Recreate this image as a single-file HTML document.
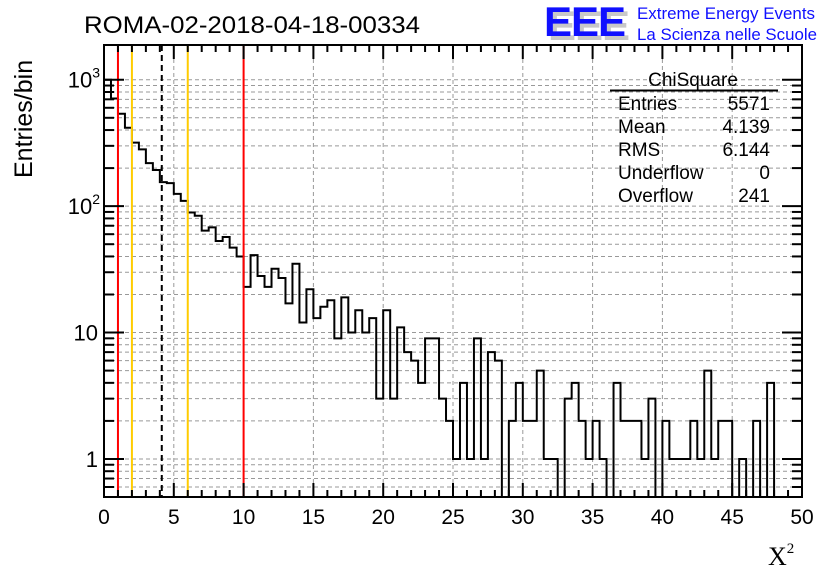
<!DOCTYPE html>
<html><head><meta charset="utf-8"><style>
body{margin:0;background:#fff;}
svg{display:block;font-family:"Liberation Sans",sans-serif;}
</style></head><body>
<svg id="chart" width="836" height="572" viewBox="0 0 836 572" xmlns="http://www.w3.org/2000/svg">
<rect width="836" height="572" fill="#fff"/>
<text x="84" y="33" font-size="24" textLength="336" lengthAdjust="spacingAndGlyphs">ROMA-02-2018-04-18-00334</text>
<g>
<text x="548" y="40" font-size="42" font-weight="bold" fill="#c8c8c8" letter-spacing="-1">EEE</text>
<text x="544" y="36" font-size="42" font-weight="bold" fill="#1010ff" letter-spacing="-1">EEE</text>
<text x="637" y="19" font-size="16.5" fill="#1010ff" textLength="178" lengthAdjust="spacingAndGlyphs">Extreme Energy Events</text>
<text x="637" y="40" font-size="16.5" fill="#1010ff" textLength="180" lengthAdjust="spacingAndGlyphs">La Scienza nelle Scuole</text>
</g>
<g id="grid"></g>
<g id="marks"></g>
<g id="axes"></g>
<g font-size="19">
<text x="693" y="86" text-anchor="middle">ChiSquare</text>
<line x1="610" y1="90.5" x2="778" y2="90.5" stroke="#000" stroke-width="2"/>
<text x="618" y="110">Entries</text><text x="770" y="110" text-anchor="end">5571</text>
<text x="618" y="133">Mean</text><text x="770" y="133" text-anchor="end">4.139</text>
<text x="618" y="156">RMS</text><text x="770" y="156" text-anchor="end">6.144</text>
<text x="618" y="179">Underflow</text><text x="770" y="179" text-anchor="end">0</text>
<text x="618" y="202">Overflow</text><text x="770" y="202" text-anchor="end">241</text>
</g>
<text transform="translate(32,178) rotate(-90)" font-size="25">Entries/bin</text>
<text x="768" y="565" font-size="26" font-family="Liberation Serif,serif">X<tspan font-size="15" dy="-12">2</tspan></text>
</svg>
<script>
const binWidth = 0.5;
const counts = [1000,711,538,417,318,281,219,193,155,152,125,110,89,84,64,68,53,57,47,40,
23,41,28,23,32,27,17,35,12,22,13,16,18,9,19,10,15,10,13,3,
15,3,11,7,6,4,9,9,3,2,1,4,1,9,1,7,6,0,2,4,
2,2,5,1,1,0,3,4,2,1,2,1,0,4,2,2,2,1,3,0,
2,1,1,1,2,1,5,1,2,2,0,1,0,2,0,4,0,0,0,0];
const xTicks = [0,5,10,15,20,25,30,35,40,45,50];
const yMajor = [1,10,100,1000];
const yLabels = ["1","10","10²","10³"];
const redLines = [1,10];
const orangeLines = [2,6];
const meanValue = 4.139;

const X0=104,X1=802,Y0=497,Y1=45;
const xMin=0,xMax=50,yMin=0.5,yDec=126.4;
const sx=v=>X0+(v-xMin)/(xMax-xMin)*(X1-X0);
const sy=v=>Y0-Math.log10(Math.max(v,yMin)/yMin)*yDec;
const yMaxVal=yMin*Math.pow(10,(Y0-Y1)/yDec);
const NS="http://www.w3.org/2000/svg";
function mk(tag,attrs,parent){const e=document.createElementNS(NS,tag);for(const k in attrs)e.setAttribute(k,attrs[k]);parent.appendChild(e);return e;}
const grid=document.getElementById('grid'),marks=document.getElementById('marks'),axes=document.getElementById('axes');
xTicks.forEach(t=>{if(t>xMin&&t<xMax){const l=mk('line',{x1:sx(t),x2:sx(t),y1:Y1,y2:Y0,stroke:'#999','stroke-dasharray':'4,3','stroke-width':1},grid);

}});
for(let d=0.1;d<=1000;d*=10){for(let m=1;m<=9;m++){const v=d*m;if(v<yMin||v>yMaxVal)continue;
const l=mk('line',{x1:X0,x2:X1,y1:sy(v),y2:sy(v),stroke:'#999','stroke-dasharray':'4,3','stroke-width':1},grid);

}}
let d=`M${sx(0)},${Y0}`;
counts.forEach((c,i)=>{const y=c>0?sy(c):Y0;d+=` L${sx(i*binWidth)},${y} L${sx((i+1)*binWidth)},${y}`;});
d+=` L${sx(counts.length*binWidth)},${Y0}`;
const h=mk('path',{d:d,fill:'none',stroke:'#000','stroke-width':2},marks);


redLines.forEach(v=>{const l=mk('line',{x1:sx(v),x2:sx(v),y1:Y1,y2:Y0,stroke:'#f00','stroke-width':2},marks);

});
orangeLines.forEach(v=>{const l=mk('line',{x1:sx(v),x2:sx(v),y1:Y1,y2:Y0,stroke:'#fc0','stroke-width':2},marks);

});
const ml=mk('line',{x1:sx(meanValue),x2:sx(meanValue),y1:Y1,y2:Y0,stroke:'#000','stroke-width':2,'stroke-dasharray':'6,4'},marks);


const fr=mk('rect',{x:X0,y:Y1,width:X1-X0,height:Y0-Y1,fill:'none',stroke:'#000','stroke-width':2},axes);


for(let t=xMin;t<=xMax;t+=1){const L=(t%5===0)?14:7;
mk('line',{x1:sx(t),x2:sx(t),y1:Y0,y2:Y0-L,stroke:'#000','stroke-width':2},axes);
mk('line',{x1:sx(t),x2:sx(t),y1:Y1,y2:Y1+L,stroke:'#000','stroke-width':2},axes);}
xTicks.forEach(t=>{const tx=mk('text',{x:sx(t),y:524,'font-size':21,'text-anchor':'middle'},axes);tx.textContent=t;

});
for(let dd=0.1;dd<=1000;dd*=10){for(let m=1;m<=9;m++){const v=dd*m;if(v<yMin||v>yMaxVal)continue;const L=m===1?20:10;
mk('line',{x1:X0,x2:X0+L,y1:sy(v),y2:sy(v),stroke:'#000','stroke-width':2},axes);
mk('line',{x1:X1,x2:X1-L,y1:sy(v),y2:sy(v),stroke:'#000','stroke-width':2},axes);}}
yMajor.forEach((v,i)=>{const s=yLabels[i];const tx=mk('text',{x:98,y:sy(v)+8,'font-size':22,'text-anchor':'end'},axes);
if(s.length>2&&s.startsWith('10')){tx.textContent='10';const ts=mk('tspan',{'font-size':14,dy:-10},tx);ts.textContent=s==='10²'?'2':'3';tx.setAttribute('x',100);}
else tx.textContent=s;

});
</script>
</body></html>
